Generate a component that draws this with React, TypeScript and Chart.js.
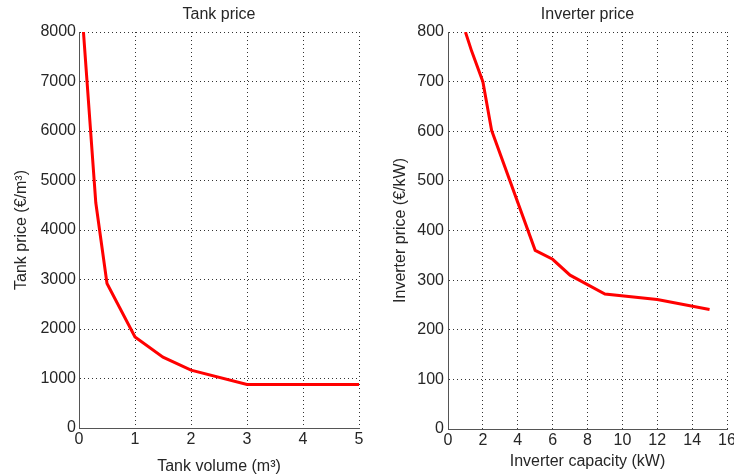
import React, { useEffect, useRef } from "react";
import { Chart, registerables } from "chart.js";

Chart.register(...registerables);

// ---- data ----
const tankVolume = [0.07, 0.3, 0.5, 1, 1.5, 2, 3, 5];
const tankPrice = [8150, 4550, 2920, 1840, 1430, 1170, 880, 880];

const inverterCapacity = [1, 1.35, 2, 2.5, 5, 6, 7, 9, 12, 15];
const inverterPrice = [800, 762, 700, 602, 360, 342, 310, 272, 261, 241];

const tankXTicks = [0, 1, 2, 3, 4, 5];
const tankYTicks = [0, 1000, 2000, 3000, 4000, 5000, 6000, 7000, 8000];
const invXTicks = [0, 2, 4, 6, 8, 10, 12, 14, 16];
const invYTicks = [0, 100, 200, 300, 400, 500, 600, 700, 800];

const FONT = "'Liberation Sans', Arial, Helvetica, sans-serif";
const TEXT = "#262626";

type Cfg = {
  xs: number[];
  ys: number[];
  xTicks: number[];
  yTicks: number[];
  title: string;
  xTitle: string;
  yTitle: string;
  yAxisWidth: number;
  xAxisHeight: number;
  padRight: number;
  yTitlePad: number;
  xTitlePad: number;
  yTickPad: number;
};

function makeConfig(c: Cfg): any {
  const pts = c.xs.map((x, i) => ({ x, y: c.ys[i] }));
  const grid = { display: true, color: "#333", lineWidth: 1, drawTicks: false };
  const border = { display: true, color: "#555", width: 1, dash: [1, 3] };
  const fmt = (v: any) => String(v);
  return {
    type: "line",
    data: {
      datasets: [
        {
          data: pts,
          borderColor: "#ff0000",
          borderWidth: 3,
          pointRadius: 0,
          fill: false,
          tension: 0,
          clip: 0,
        },
      ],
    },
    options: {
      animation: false,
      responsive: false,
      events: [],
      layout: { padding: { left: 0, right: c.padRight, top: 0, bottom: 0 } },
      plugins: {
        legend: { display: false },
        tooltip: { enabled: false },
        title: {
          display: true,
          text: c.title,
          fullSize: false,
          color: TEXT,
          font: { family: FONT, size: 16, weight: "normal", lineHeight: 1 },
          padding: { top: 7, bottom: 9 },
        },
      },
      scales: {
        x: {
          type: "linear",
          min: c.xTicks[0],
          max: c.xTicks[c.xTicks.length - 1],
          afterBuildTicks: (s: any) => {
            s.ticks = c.xTicks.map((v) => ({ value: v }));
          },
          afterFit: (s: any) => {
            s.height = c.xAxisHeight;
            s.paddingLeft = 0;
            s.paddingRight = 0;
          },
          grid,
          border,
          ticks: {
            color: TEXT,
            padding: 4,
            maxRotation: 0,
            autoSkip: false,
            callback: fmt,
            font: { family: FONT, size: 16, lineHeight: 1 },
          },
          title: {
            display: true,
            text: c.xTitle,
            color: TEXT,
            font: { family: FONT, size: 16, lineHeight: 1 },
            padding: { top: 0, bottom: c.xTitlePad },
          },
        },
        y: {
          type: "linear",
          min: c.yTicks[0],
          max: c.yTicks[c.yTicks.length - 1],
          afterBuildTicks: (s: any) => {
            s.ticks = c.yTicks.map((v) => ({ value: v }));
          },
          afterFit: (s: any) => {
            s.width = c.yAxisWidth;
            s.paddingTop = 0;
            s.paddingBottom = 0;
          },
          grid,
          border,
          ticks: {
            color: TEXT,
            padding: c.yTickPad,
            autoSkip: false,
            callback: fmt,
            font: { family: FONT, size: 16, lineHeight: 1 },
          },
          title: {
            display: true,
            text: c.yTitle,
            color: TEXT,
            font: { family: FONT, size: 16, lineHeight: 1 },
            padding: { top: c.yTitlePad, bottom: 0 },
          },
        },
      },
    },
  };
}

function Panel({ cfg, left }: { cfg: Cfg; left: number }) {
  const ref = useRef<HTMLCanvasElement | null>(null);
  useEffect(() => {
    if (!ref.current) return;
    const chart = new Chart(ref.current, makeConfig(cfg));
    return () => chart.destroy();
  }, []);
  return (
    <canvas
      ref={ref}
      width={367}
      height={475}
      style={{ position: "absolute", left, top: 0, width: 367, height: 475 }}
    />
  );
}

export default function App() {
  const tankCfg: Cfg = {
    xs: tankVolume,
    ys: tankPrice,
    xTicks: tankXTicks,
    yTicks: tankYTicks,
    title: "Tank price",
    xTitle: "Tank volume (m³)",
    yTitle: "Tank price (€/m³)",
    yAxisWidth: 79,
    xAxisHeight: 47,
    padRight: 8,
    yTitlePad: 14,
    xTitlePad: 0,
    yTickPad: 3,
  };
  const invCfg: Cfg = {
    xs: inverterCapacity,
    ys: inverterPrice,
    xTicks: invXTicks,
    yTicks: invYTicks,
    title: "Inverter price",
    xTitle: "Inverter capacity (kW)",
    yTitle: "Inverter price (€/kW)",
    yAxisWidth: 81,
    xAxisHeight: 46,
    padRight: 7,
    yTitlePad: 26,
    xTitlePad: 5,
    yTickPad: 4,
  };
  return (
    <div
      style={{
        position: "absolute",
        left: 0,
        top: 0,
        width: 734,
        height: 475,
        background: "#fff",
        overflow: "hidden",
      }}
    >
      <Panel cfg={tankCfg} left={0} />
      <Panel cfg={invCfg} left={367} />
    </div>
  );
}
